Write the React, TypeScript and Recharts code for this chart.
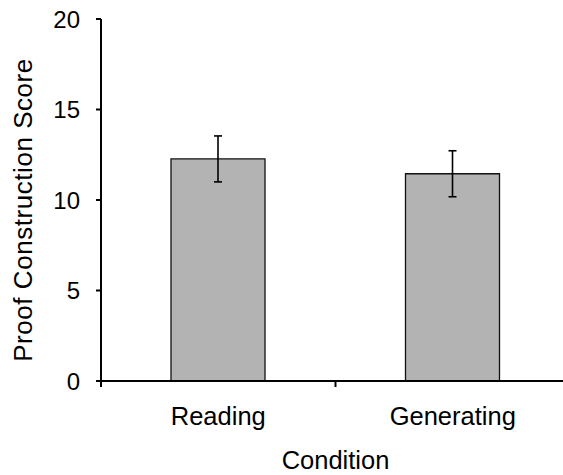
import { Bar, BarChart, ErrorBar, XAxis, YAxis } from "recharts";

const conditions = ["Reading", "Generating"];
const meanScores = [12.27, 11.45];
const errorValues = [1.27, 1.27];
const yTicks = [0, 5, 10, 15, 20];
// category boundaries (integers) and centres (halves) on a 0..2 axis
const xTicks = [0, 0.5, 1, 1.5, 2];

const data = conditions.map((name, i) => ({
  name,
  pos: i + 0.5,
  score: meanScores[i],
  err: errorValues[i],
}));

const FONT = '"Liberation Sans", Arial, Helvetica, sans-serif';

function XTick(props: any) {
  const { x, y, payload } = props;
  const v = Number(payload.value);
  if (Number.isInteger(v)) {
    return <line x1={x} x2={x} y1={y} y2={y + 6} stroke="#000" strokeWidth={2} />;
  }
  return (
    <text x={x} y={y + 44} textAnchor="middle" fontSize={25.5} fontFamily={FONT} fill="#000">
      {conditions[Math.floor(v)]}
    </text>
  );
}

function YLabel({ viewBox }: any) {
  const cx = viewBox.x + 32;
  const cy = viewBox.y + viewBox.height / 2 + 10;
  return (
    <text
      x={cx}
      y={cy}
      transform={`rotate(-90, ${cx}, ${cy})`}
      textAnchor="middle"
      fontSize={26}
      letterSpacing={0.55}
      fontFamily={FONT}
      fill="#000"
    >
      Proof Construction Score
    </text>
  );
}

function XLabel({ viewBox }: any) {
  return (
    <text
      x={viewBox.x + viewBox.width / 2}
      y={469}
      textAnchor="middle"
      fontSize={25.5}
      fontFamily={FONT}
      fill="#000"
    >
      Condition
    </text>
  );
}

export default function App() {
  return (
    <div style={{ position: "absolute", left: 0, top: 0, width: 563, height: 475, overflow: "hidden", background: "#fff" }}>
      <BarChart width={600} height={475} data={data} margin={{ top: 19, right: 30, bottom: 0, left: 0 }}>
        <XAxis
          type="number"
          dataKey="pos"
          domain={[0, 2]}
          ticks={xTicks}
          interval={0}
          height={94}
          tickSize={0}
          tickMargin={0}
          tickLine={false}
          tick={<XTick />}
          axisLine={{ stroke: "#000", strokeWidth: 2 }}
          label={{ content: XLabel }}
        />
        <YAxis
          domain={[0, 20]}
          ticks={yTicks}
          width={101}
          tickSize={5}
          tickMargin={16}
          axisLine={{ stroke: "#000", strokeWidth: 2 }}
          tickLine={{ stroke: "#000", strokeWidth: 2 }}
          tick={{ fontSize: 24, fill: "#000", fontFamily: FONT }}
          label={{ content: YLabel }}
        />
        <Bar dataKey="score" barSize={94} fill="#b3b3b3" stroke="#111" strokeWidth={1.3} isAnimationActive={false}>
          <ErrorBar dataKey="err" direction="y" width={4} stroke="#000" strokeWidth={1.6} />
        </Bar>
      </BarChart>
    </div>
  );
}
